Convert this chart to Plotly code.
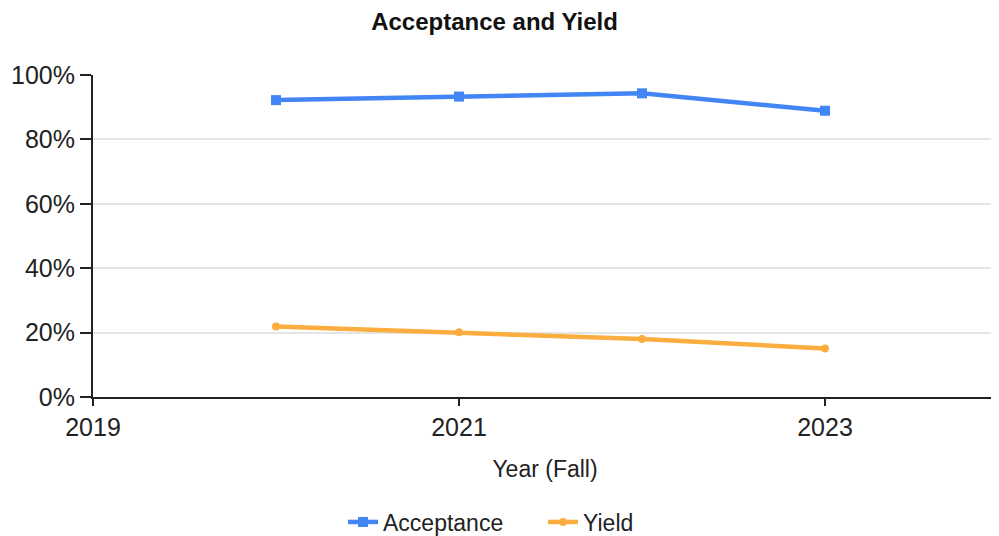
import plotly.graph_objects as go

years = [2020, 2021, 2022, 2023]
acceptance = [0.922, 0.933, 0.943, 0.889]
yield_rate = [0.219, 0.201, 0.180, 0.151]

BLUE = "#4285f4"
ORANGE = "#fbad3f"
FONT = "Liberation Sans, Arial, sans-serif"

# page body has an 8px margin, so the figure is sized to fit the window
W, H = 991, 528

fig = go.Figure()
fig.add_trace(
    go.Scatter(
        x=years, y=acceptance, mode="lines+markers", name="Acceptance",
        line=dict(color=BLUE, width=4.5),
        marker=dict(symbol="square", size=10, color=BLUE),
    )
)
fig.add_trace(
    go.Scatter(
        x=years, y=yield_rate, mode="lines+markers", name="Yield",
        line=dict(color=ORANGE, width=4.5),
        marker=dict(symbol="circle", size=8, color=ORANGE),
    )
)

fig.update_layout(
    width=W,
    height=H,
    template="plotly_white",
    paper_bgcolor="white",
    plot_bgcolor="white",
    font=dict(family=FONT, size=23, color="#222222"),
    margin=dict(l=85, r=2, t=67, b=139),
    title=dict(
        text="<b>Acceptance and Yield</b>",
        x=0.491, xref="container", xanchor="center",
        y=1 - 14 / H, yref="container", yanchor="middle",
        font=dict(size=24, color="#111111"),
    ),
    xaxis=dict(
        range=[2019, 2023.94],
        tickvals=[2019, 2021, 2023],
        ticks="outside", ticklen=7, tickwidth=2, tickcolor="#222222",
        showline=True, linecolor="#222222", linewidth=2,
        showgrid=False, zeroline=False,
        tickfont=dict(size=25),
        title=dict(text="Year (Fall)", font=dict(size=23), standoff=21),
    ),
    yaxis=dict(
        range=[0, 1],
        tickvals=[0, 0.2, 0.4, 0.6, 0.8, 1.0],
        tickformat=".0%",
        ticks="outside", ticklen=11, tickwidth=2, tickcolor="#222222",
        showline=True, linecolor="#222222", linewidth=2,
        gridcolor="#e5e5e5", gridwidth=2,
        zeroline=False,
        tickfont=dict(size=25),
    ),
    legend=dict(
        orientation="h",
        entrywidth=155,
        x=335 / W, xref="container", xanchor="left",
        y=14 / H, yref="container", yanchor="middle",
        font=dict(size=23),
    ),
    showlegend=True,
)

fig.write_html("out.html")
